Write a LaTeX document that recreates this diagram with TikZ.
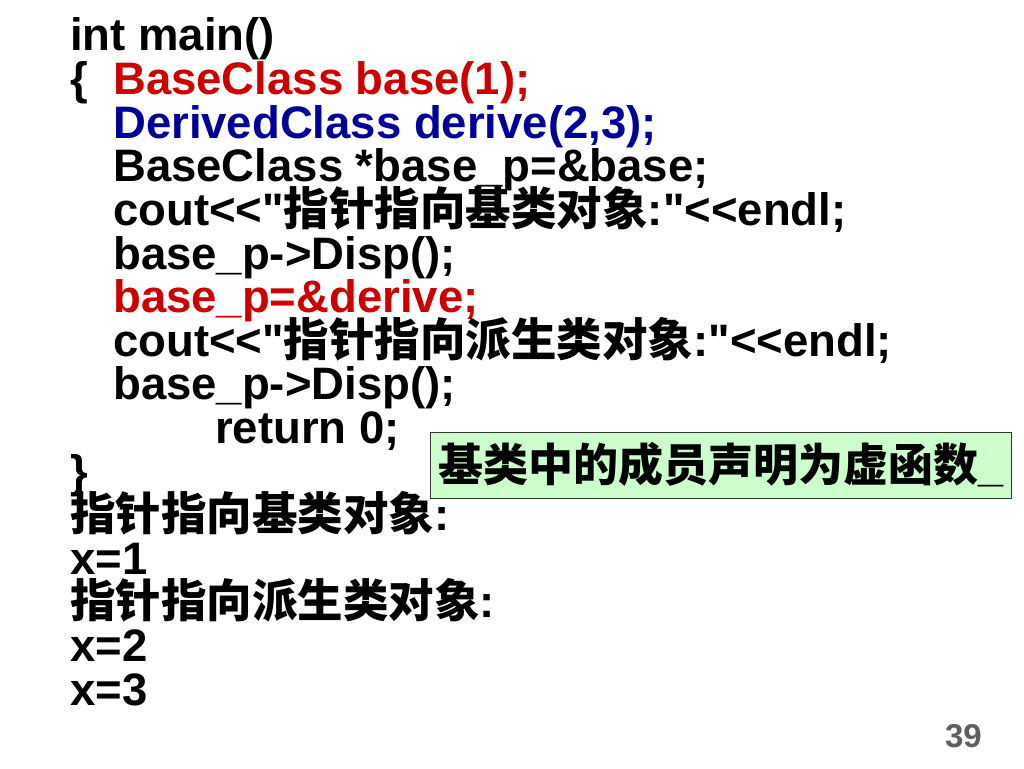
\documentclass[tikz,border=0pt]{standalone}
\usepackage{fontspec}
\setmainfont{Liberation Sans}[Ligatures=TeXOff]
\newfontfamily\cjk{Noto Sans CJK SC}[Ligatures=TeXOff]
\definecolor{codered}{HTML}{CC0000}
\definecolor{codeblue}{HTML}{000099}
\definecolor{notegreen}{HTML}{CCFFCC}
\definecolor{pagegray}{HTML}{5F5F5F}
\newcommand{\zh}[1]{{\cjk #1}}
\begin{document}
\begin{tikzpicture}[x=1pt,y=-1pt,
  codeline/.style={anchor=base west,inner sep=0pt,text height=31pt,text depth=10pt,font=\fontsize{45.5}{45.5}\selectfont\bfseries},
  notebox/.style={draw=black!80,line width=1pt,fill=notegreen,inner sep=0pt,minimum width=581pt,minimum height=66pt,font=\fontsize{45}{45}\selectfont\bfseries},
  pagenum/.style={anchor=base east,inner sep=0pt,text=pagegray,font=\fontsize{33}{33}\selectfont\bfseries}]
\useasboundingbox (0,0) rectangle (1024,768);
\def\bl#1{51+(#1-1)*43.6}
\node[codeline] (l1) at (70,{\bl{1}}) {int main()};
\node[codeline] (l2a) at (70,{\bl{2}}) {\{};
\node[codeline,text=codered] (l2) at (113,{\bl{2}}) {BaseClass base(1);};
\node[codeline,text=codeblue] (l3) at (113,{\bl{3}}) {DerivedClass derive(2,3);};
\node[codeline] (l4) at (113,{\bl{4}}) {BaseClass *base\_p=\&base;};
\node[codeline] (l5) at (113,{\bl{5}}) {cout<<"\zh{指针指向基类对象}:"<<endl;};
\node[codeline] (l6) at (113,{\bl{6}}) {base\_p->Disp();};
\node[codeline,text=codered] (l7) at (113,{\bl{7}}) {base\_p=\&derive;};
\node[codeline] (l8) at (113,{\bl{8}}) {cout<<"\zh{指针指向派生类对象}:"<<endl;};
\node[codeline] (l9) at (113,{\bl{9}}) {base\_p->Disp();};
\node[codeline] (l10) at (215,{\bl{10}}) {return 0;};
\node[codeline] (l11) at (70,{\bl{11}}) {\}};
\node[codeline] (l12) at (70,{\bl{12}}) {\zh{指针指向基类对象}:};
\node[codeline] (l13) at (70,{\bl{13}}) {x=1};
\node[codeline] (l14) at (70,{\bl{14}}) {\zh{指针指向派生类对象}:};
\node[codeline] (l15) at (70,{\bl{15}}) {x=2};
\node[codeline] (l16) at (70,{\bl{16}}) {x=3};
\node[notebox] (note) at (721.4,465) {\zh{基类中的成员声明为虚函数}\_};
\node[pagenum] (page) at (982,747) {39};
\end{tikzpicture}
\end{document}
